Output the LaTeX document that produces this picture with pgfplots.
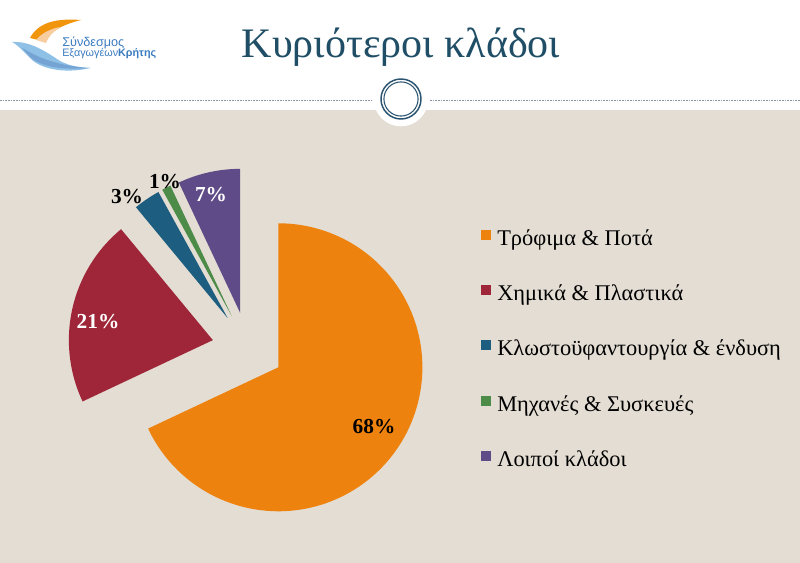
\documentclass[border=0pt]{standalone}
\usepackage{fontspec}
\setmainfont{Liberation Serif}
\newfontfamily\logofont{Liberation Sans}
\usepackage{pgfplots}
\usepackage{pgfplotstable}
\pgfplotsset{compat=1.18}

\definecolor{bg}{HTML}{E3DDD3}
\definecolor{cOrange}{HTML}{EE820E}
\definecolor{cRed}{HTML}{9E2638}
\definecolor{cBlue}{HTML}{1D5E80}
\definecolor{cGreen}{HTML}{4C8C48}
\definecolor{cPurple}{HTML}{5F4B87}
\definecolor{titleblue}{HTML}{1F4E66}
\definecolor{ringblue}{HTML}{2B5470}
\definecolor{dashgray}{HTML}{8C96A6}
\definecolor{logoblue}{HTML}{3A7CC0}
\definecolor{logolight}{HTML}{8FC0E6}

\pgfplotstableread[col sep=comma]{
sector,share
Food,68
Chemicals,21
Textiles,3
Machines,1
Other,7
}\piedata

\begin{document}
\begin{tikzpicture}
\pgfplotstablegetelem{0}{share}\of\piedata \edef\vA{\pgfplotsretval}
\pgfplotstablegetelem{1}{share}\of\piedata \edef\vB{\pgfplotsretval}
\pgfplotstablegetelem{2}{share}\of\piedata \edef\vC{\pgfplotsretval}
\pgfplotstablegetelem{3}{share}\of\piedata \edef\vD{\pgfplotsretval}
\pgfplotstablegetelem{4}{share}\of\piedata \edef\vE{\pgfplotsretval}
\pgfmathsetmacro\sA{90}
\pgfmathsetmacro\eA{\sA-3.6*\vA}
\pgfmathsetmacro\eB{\eA-3.6*\vB}
\pgfmathsetmacro\eC{\eB-3.6*\vC}
\pgfmathsetmacro\eD{\eC-3.6*\vD}
\pgfmathsetmacro\eE{\eD-3.6*\vE}
\def\pieR{144}\def\pieex{36}\def\piecx{248}\def\piecy{215}
\pgfmathsetmacro\mA{(\sA+\eA)/2}
\pgfmathsetmacro\mB{(\eA+\eB)/2}
\pgfmathsetmacro\mC{(\eB+\eC)/2}
\pgfmathsetmacro\mD{(\eC+\eD)/2}
\pgfmathsetmacro\mE{(\eD+\eE)/2}
\pgfmathsetmacro\xA{\piecx+\pieex*cos(\mA)}\pgfmathsetmacro\yA{\piecy+\pieex*sin(\mA)}
\pgfmathsetmacro\xB{\piecx+\pieex*cos(\mB)}\pgfmathsetmacro\yB{\piecy+\pieex*sin(\mB)}
\pgfmathsetmacro\xC{\piecx+\pieex*cos(\mC)}\pgfmathsetmacro\yC{\piecy+\pieex*sin(\mC)}
\pgfmathsetmacro\xD{\piecx+\pieex*cos(\mD)}\pgfmathsetmacro\yD{\piecy+\pieex*sin(\mD)}
\pgfmathsetmacro\xE{\piecx+\pieex*cos(\mE)}\pgfmathsetmacro\yE{\piecy+\pieex*sin(\mE)}
\begin{axis}[
  scale only axis, width=600pt, height=422.25pt,
  xmin=0, xmax=800, ymin=0, ymax=563,
  hide axis,
  legend image code/.code={\fill[#1] (0pt,0.3pt) rectangle (7.5pt,7.8pt);},
  legend cell align=left,
  legend style={draw=none, fill=none, at={(axis cs:481,334)}, anchor=north west,
    font=\fontsize{16.8}{19}\selectfont, row sep=25.5pt, inner sep=0pt,
    nodes={text height=12pt, text depth=4pt, inner sep=0pt, outer sep=0pt},
    /tikz/every odd column/.append style={column sep=4.5pt}},
]
% background
\fill[white] (axis cs:0,0) rectangle (axis cs:800,563);
\fill[bg] (axis cs:0,0) rectangle (axis cs:800,453);
% header line and ring
\draw[dashgray, line width=0.7pt, dash pattern=on 1.2pt off 0.8pt] (axis cs:0,463) -- (axis cs:373,463);
\draw[dashgray, line width=0.7pt, dash pattern=on 1.2pt off 0.8pt] (axis cs:430,463) -- (axis cs:800,463);
\fill[white] (axis cs:401,464) circle[radius=20.5pt];
\draw[ringblue, line width=1.1pt] (axis cs:401,464) circle[radius=15pt];
\draw[ringblue, line width=0.8pt] (axis cs:401,464) circle[radius=12.8pt];
% title
\node[anchor=base, text=titleblue, font=\fontsize{31.5}{36}\selectfont] at (axis cs:401,505) {Κυριότεροι κλάδοι};
% logo
\fill[cOrange!85!yellow] (axis cs:30,525) .. controls (axis cs:38,540) and (axis cs:55,545) .. (axis cs:81,543)
   .. controls (axis cs:62,538) and (axis cs:50,532) .. (axis cs:46,521) -- cycle;
\fill[cOrange!40!white] (axis cs:36,523) .. controls (axis cs:42,530) and (axis cs:50,534) .. (axis cs:60,536)
   .. controls (axis cs:52,530) and (axis cs:48,526) .. (axis cs:46,520) -- cycle;
\fill[logolight] (axis cs:12,521) .. controls (axis cs:30,522) and (axis cs:45,512) .. (axis cs:60,502)
   .. controls (axis cs:70,497) and (axis cs:80,495) .. (axis cs:90,495)
   .. controls (axis cs:70,490) and (axis cs:45,492) .. (axis cs:32,503)
   .. controls (axis cs:25,510) and (axis cs:18,518) .. (axis cs:12,521) -- cycle;
\fill[logoblue!70!white] (axis cs:22,515) .. controls (axis cs:35,508) and (axis cs:50,498) .. (axis cs:90,495)
   .. controls (axis cs:60,493) and (axis cs:42,496) .. (axis cs:30,506) -- cycle;
\node[anchor=base west, inner sep=0pt, text=logoblue, font=\logofont\fontsize{9.5}{10}\selectfont] at (axis cs:62,516) {Σύνδεσμος};
\node[anchor=base west, inner sep=0pt, text=logoblue, font=\logofont\fontsize{8.1}{10}\selectfont] at (axis cs:62,506) {Εξαγωγέων\textbf{Κρήτης}};
% pie wedges
\addplot[fill=cOrange, draw=none, domain=\eA:\sA, samples=120] ({\xA+\pieR*cos(x)},{\yA+\pieR*sin(x)}) -- (axis cs:\xA,\yA) -- cycle;
\addlegendentry{Τρόφιμα \& Ποτά}
\addplot[fill=cRed, draw=none, domain=\eB:\eA, samples=60] ({\xB+\pieR*cos(x)},{\yB+\pieR*sin(x)}) -- (axis cs:\xB,\yB) -- cycle;
\addlegendentry{Χημικά \& Πλαστικά}
\addplot[fill=cBlue, draw=none, domain=\eC:\eB, samples=10] ({\xC+\pieR*cos(x)},{\yC+\pieR*sin(x)}) -- (axis cs:\xC,\yC) -- cycle;
\addlegendentry{Κλωστοϋφαντουργία \& ένδυση}
\addplot[fill=cGreen, draw=none, domain=\eD:\eC, samples=5] ({\xD+\pieR*cos(x)},{\yD+\pieR*sin(x)}) -- (axis cs:\xD,\yD) -- cycle;
\addlegendentry{Μηχανές \& Συσκευές}
\addplot[fill=cPurple, draw=none, domain=\eE:\eD, samples=20] ({\xE+\pieR*cos(x)},{\yE+\pieR*sin(x)}) -- (axis cs:\xE,\yE) -- cycle;
\addlegendentry{Λοιποί κλάδοι}
% labels
\node[font=\bfseries\fontsize{16}{18}\selectfont, text=black] at (axis cs:374,136) {\vA\%};
\node[font=\bfseries\fontsize{16}{18}\selectfont, text=white] at (axis cs:98,241) {\vB\%};
\node[font=\bfseries\fontsize{16}{18}\selectfont, text=black] at (axis cs:127,366) {\vC\%};
\node[font=\bfseries\fontsize{16}{18}\selectfont, text=black] at (axis cs:165,381) {\vD\%};
\node[font=\bfseries\fontsize{16}{18}\selectfont, text=white] at (axis cs:211,368) {\vE\%};
\end{axis}
\end{tikzpicture}
\end{document}
